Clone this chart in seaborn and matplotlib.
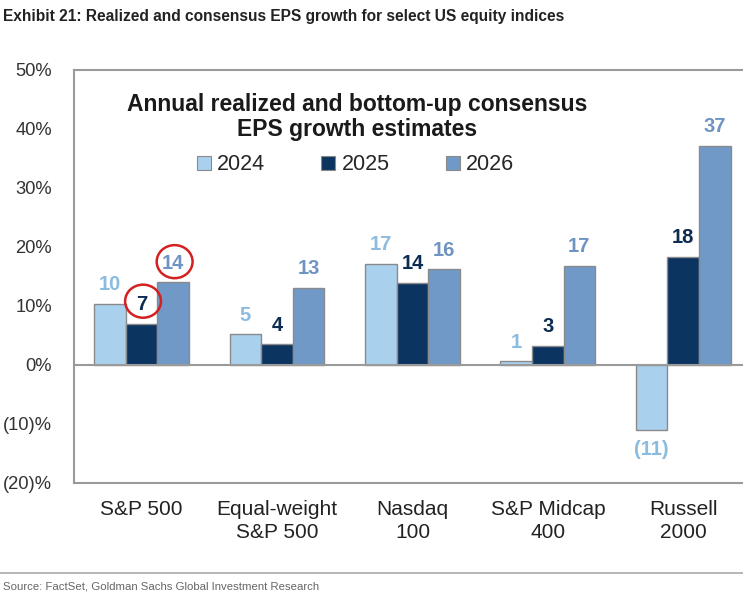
import pandas as pd
import matplotlib.pyplot as plt
import seaborn as sb
from matplotlib.patches import Ellipse

# data
indices = ["S&P 500", "Equal-weight\nS&P 500", "Nasdaq\n100", "S&P Midcap\n400", "Russell\n2000"]
years = ["2024", "2025", "2026"]
eps_2024 = [10.3, 5.2, 17.1, 0.6, -11.0]
eps_2025 = [6.9, 3.5, 13.9, 3.2, 18.3]
eps_2026 = [14.0, 13.1, 16.2, 16.8, 37.1]
labels_2024 = ["10", "5", "17", "1", "(11)"]
labels_2025 = ["7", "4", "14", "3", "18"]
labels_2026 = ["14", "13", "16", "17", "37"]
y_ticks = [50, 40, 30, 20, 10, 0, -10, -20]
y_ticklabels = ["50%", "40%", "30%", "20%", "10%", "0%", "(10)%", "(20)%"]

bar_colors = ["#a9d1ee", "#0c3461", "#7199c8"]
text_colors = ["#8cbbe0", "#0c2c52", "#6f94c2"]

df = pd.DataFrame({
    "index": indices * 3,
    "year": [y for y in years for _ in indices],
    "eps": eps_2024 + eps_2025 + eps_2026,
})

sb.set_style("white")
plt.rcParams["font.family"] = ["Liberation Sans", "DejaVu Sans"]
narrow = ["Liberation Sans Narrow", "Liberation Sans", "DejaVu Sans"]

fig = plt.figure(figsize=(7.43, 5.97), dpi=100)
ax = fig.add_axes([0.0996, 0.191, 0.911, 0.692])

sb.barplot(data=df, x="index", y="eps", hue="year", palette=bar_colors, saturation=1,
           width=0.7, edgecolor="#8a8a8a", linewidth=1.0, ax=ax, legend=False)

ax.set_xlim(-0.5, 4.5)
ax.set_ylim(-20, 50)
ax.set_yticks(y_ticks)
ax.set_yticklabels(y_ticklabels, fontsize=13.2, color="#333333")
ax.set_xticks(range(len(indices)))
ax.set_xticklabels(indices, fontsize=15, color="#222222", linespacing=1.3)
ax.tick_params(axis="x", pad=12, length=0)
ax.tick_params(axis="y", pad=16, length=0)
ax.set_xlabel("")
ax.set_ylabel("")
for s in ax.spines.values():
    s.set_color("#9a9a9a")
    s.set_linewidth(1.5)
ax.axhline(0, color="#9a9a9a", linewidth=1.5, zorder=3)

all_labels = [labels_2024, labels_2025, labels_2026]
for cont, labs, col in zip(ax.containers, all_labels, text_colors):
    ax.bar_label(cont, labels=labs, padding=7, color=col,
                 fontsize=14.5, fontweight="bold")

# red rings around the S&P 500 2025 and 2026 labels
bars25 = ax.containers[1]
bars26 = ax.containers[2]
for bar, val, dy in [(bars25[0], eps_2025[0], 3.9), (bars26[0], eps_2026[0], 3.5)]:
    cx = bar.get_x() + bar.get_width() / 2 + 0.01
    ax.add_patch(Ellipse((cx, val + dy), 0.265, 5.6, fill=False,
                         edgecolor="#d42020", linewidth=1.8, zorder=5))

# inner title and legend
ax.text(0.418, 0.886, "Annual realized and bottom-up consensus\nEPS growth estimates",
        transform=ax.transAxes, ha="center", va="center", fontsize=16.5,
        fontweight="bold", color="#1a1a1a", linespacing=1.15)
handles = [plt.Rectangle((0, 0), 1, 1, facecolor=c, edgecolor="#8a8a8a", linewidth=0.8)
           for c in bar_colors]
ax.legend(handles, years, ncol=3, frameon=False, fontsize=15.5,
          loc="center", bbox_to_anchor=(0.416, 0.77), handlelength=0.65,
          handleheight=0.65, handletextpad=0.3, columnspacing=2.6)

fig.text(0.004, 0.985, "Exhibit 21: Realized and consensus EPS growth for select US equity indices",
         ha="left", va="top", fontsize=11.2, fontweight="bold", color="#222222",
         family=narrow)
fig.add_artist(plt.Line2D([0, 1], [0.04, 0.04], color="#aaaaaa", linewidth=1.2))
fig.text(0.004, 0.01, "Source: FactSet, Goldman Sachs Global Investment Research",
         ha="left", va="bottom", fontsize=8.2, color="#666666", family=narrow)

fig.savefig("out.png", dpi=100, facecolor="white")
